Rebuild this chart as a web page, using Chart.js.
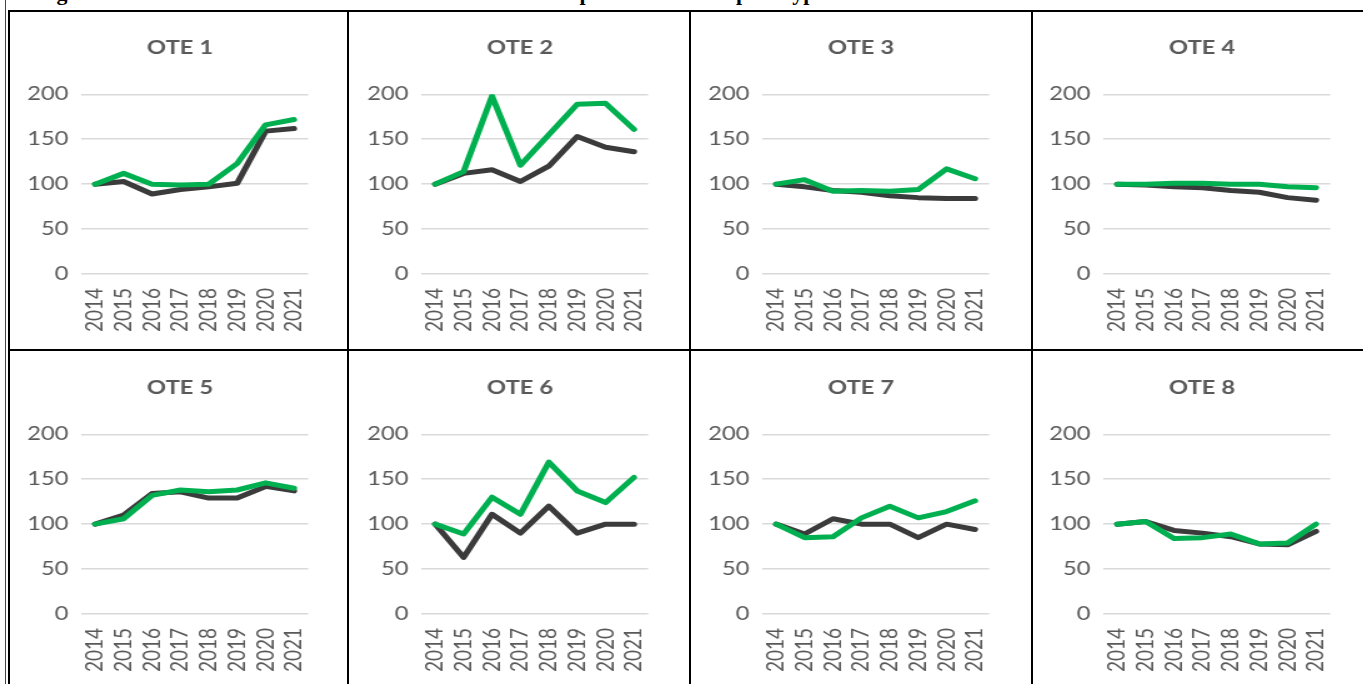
<!DOCTYPE html>
<html>
<head>
<meta charset="utf-8">
<title>OTE</title>
<script src="https://cdn.jsdelivr.net/npm/chart.js@4/dist/chart.umd.min.js"></script>
<style>
  html, body { margin: 0; padding: 0; background: #fff; overflow: hidden; }
  body { width: 1363px; height: 684px; position: relative; }
  .cap { position: absolute; top: -18px; font: bold 22px 'Liberation Serif', serif; line-height: 22px; color: #000; white-space: nowrap; }
  .ln { position: absolute; background: #000; }
  .box { position: absolute; width: 256px; height: 315px; transform: scaleX(1.25); transform-origin: 0 0; }
</style>
</head>
<body>
<!-- caption line, only its lower edge shows -->
<span class="cap" style="left:37px">Figure 6. Evolution of the total standard</span>
<span class="cap" style="left:549px">output</span>
<span class="cap" style="left:736px">per</span>
<span class="cap" style="left:785px">type of farm</span>

<!-- table borders -->
<div class="ln" style="left:5px;top:0;width:1px;height:684px;background:#444"></div>
<div class="ln" style="left:8px;top:10px;width:2px;height:674px"></div>
<div class="ln" style="left:8px;top:10px;width:1355px;height:2px"></div>
<div class="ln" style="left:347px;top:10px;width:2px;height:674px"></div>
<div class="ln" style="left:689px;top:10px;width:2px;height:674px"></div>
<div class="ln" style="left:1031px;top:10px;width:2px;height:674px"></div>
<div class="ln" style="left:8px;top:349px;width:1355px;height:2px"></div>

<div id="charts"></div>

<script>
// categories
const years = ['2014', '2015', '2016', '2017', '2018', '2019', '2020', '2021'];
const titles = ['OTE 1', 'OTE 2', 'OTE 3', 'OTE 4', 'OTE 5', 'OTE 6', 'OTE 7', 'OTE 8'];
const yTicks = [0, 50, 100, 150, 200];

// green series (drawn on top)
const greenSeries = [
    [100, 112, 100, 99, 100, 123, 166, 172],
    [100, 114, 198, 121, 155, 189, 190, 161],
    [100, 105, 92, 93, 92, 94, 117, 106],
    [100, 100, 101, 101, 100, 100, 97, 96],
    [100, 106, 132, 138, 136, 138, 146, 140],
    [100, 89, 130, 111, 169, 137, 124, 152],
    [100, 85, 86, 107, 120, 107, 114, 126],
    [100, 103, 84, 85, 89, 78, 79, 100]
];

// dark series
const darkSeries = [
    [100, 103, 89, 94, 97, 101, 159, 162],
    [100, 112, 116, 103, 120, 153, 141, 136],
    [100, 97, 93, 91, 87, 85, 84, 84],
    [100, 99, 97, 96, 93, 91, 85, 82],
    [100, 110, 134, 136, 129, 129, 142, 137],
    [100, 63, 111, 90, 120, 90, 100, 100],
    [100, 89, 106, 100, 100, 85, 100, 94],
    [100, 103, 93, 90, 86, 78, 77, 92]
];

// cell offsets in the table (x, y)
const cellX = [0, 340, 681, 1022];
const cellY = [0, 340];

const GREEN = '#00b050';
const DARK = '#3b3b3b';
const TXT = '#595959';

function lineSet(data, color) {
    return {
        data: data,
        borderColor: color,
        backgroundColor: color,
        borderWidth: 5,
        pointRadius: 0,
        pointHoverRadius: 0,
        tension: 0,
        borderCapStyle: 'round',
        borderJoinStyle: 'round',
        fill: false
    };
}

function createPanel(i) {
    const box = document.createElement('div');
    box.className = 'box';
    box.style.left = (20 + cellX[i % 4]) + 'px';
    box.style.top = (25 + cellY[Math.floor(i / 4)]) + 'px';
    const cv = document.createElement('canvas');
    cv.width = 256;
    cv.height = 315;
    box.appendChild(cv);
    document.getElementById('charts').appendChild(box);

    return new Chart(cv.getContext('2d'), {
        type: 'line',
        data: {
            labels: years,
            datasets: [lineSet(greenSeries[i], GREEN), lineSet(darkSeries[i], DARK)]
        },
        options: {
            responsive: false,
            animation: false,
            devicePixelRatio: 1,
            layout: { padding: 0 },
            plugins: {
                legend: { display: false },
                tooltip: { enabled: false },
                title: {
                    display: true,
                    text: titles[i],
                    color: TXT,
                    font: { family: 'Lato', size: 19, weight: 'bold' },
                    padding: { top: 11.5, bottom: 35 }
                }
            },
            scales: {
                x: {
                    offset: true,
                    grid: { display: false, drawTicks: false },
                    border: { display: false },
                    ticks: {
                        color: TXT,
                        font: { family: 'Lato', size: 19 },
                        minRotation: 90,
                        maxRotation: 90,
                        padding: 14,
                        autoSkip: false
                    },
                    afterFit: function(s) { s.height = 66; }
                },
                y: {
                    min: 0,
                    max: 200,
                    afterBuildTicks: function(s) { s.ticks = yTicks.map(v => ({ value: v })); },
                    grid: { color: '#d9d9d9', lineWidth: 1.5, drawTicks: false },
                    border: { display: false },
                    ticks: {
                        color: TXT,
                        font: { family: 'Lato', size: 19 },
                        padding: 10
                    },
                    afterFit: function(s) { s.width = 48.8; }
                }
            }
        }
    });
}

document.addEventListener('DOMContentLoaded', function() {
    for (let i = 0; i < 8; i++) {
        createPanel(i);
    }
});
</script>
</body>
</html>
